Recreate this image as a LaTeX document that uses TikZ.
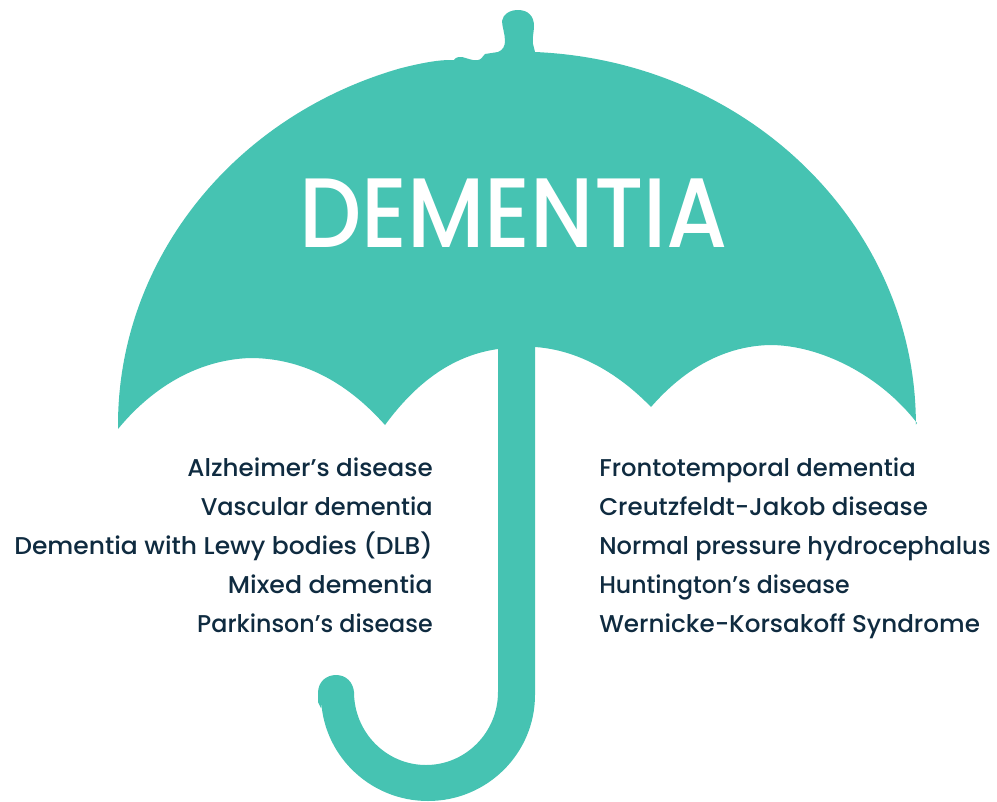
\documentclass[tikz,border=0pt]{standalone}
\usepackage{fontspec}
\setmainfont{Poppins Medium}
\definecolor{teal}{HTML}{46C3B2}
\definecolor{ink}{HTML}{0F2B40}
\tikzset{
  shapefill/.style={fill=teal,draw=none},
  leftitem/.style={anchor=base east,inner sep=0pt,text=ink,font=\fontsize{18.2}{20}\selectfont},
  rightitem/.style={anchor=base west,inner sep=0pt,text=ink,font=\fontsize{18.2}{20}\selectfont},
  titletext/.style={anchor=base,inner sep=0pt,text=white,font=\fontsize{74}{80}\selectfont}
}
\begin{document}
\begin{tikzpicture}[x=0.75pt,y=-0.75pt]
\useasboundingbox (0,0) rectangle (997,801);
% canopy
\fill[shapefill] (118,429) -- (118,425) arc[start angle=180,end angle=253,x radius=399,y radius=373]
  .. controls (425,62) and (440,60) .. (450,60)
  -- (454,60) .. controls (456,57) and (458,57) .. (462,57)
  .. controls (467,58) and (472,61) .. (478,60)
  .. controls (481,60) and (483,56) .. (485,54)
  -- (498,52) .. controls (503,50) and (505,46) .. (505,41)
  .. controls (505,34) and (502,26) .. (502,21)
  .. controls (503,14) and (510,10) .. (518,10)
  .. controls (528,10) and (534,16) .. (534,26)
  .. controls (534,32) and (532,38) .. (533,44)
  -- (535,52)
  arc[start angle=272.6,end angle=360,x radius=399,y radius=373]
  -- (917,423)
  .. controls (880,375) and (820,345) .. (770,345)
  .. controls (725,346) and (685,368) .. (651,407)
  .. controls (620,375) and (580,350) .. (535,347)
  -- (498,349)
  .. controls (455,355) and (418,380) .. (385,425)
  .. controls (345,380) and (300,358) .. (250,358)
  .. controls (195,360) and (150,390) .. (118,429)
  -- cycle;
% handle
\fill[shapefill] (498,340) -- (535,340) -- (535,695)
  arc[start angle=0,end angle=180,x radius=107,y radius=106]
  -- (321,708) -- (318,702) -- (318,693)
  .. controls (318,682) and (326,675) .. (336,675)
  .. controls (346,675) and (353,682) .. (354,692)
  arc[start angle=180,end angle=0,x radius=72,y radius=73]
  -- cycle;
\node[titletext,xscale=0.89] (title) at (513.5,247) {DEMENTIA};
\node[leftitem,xscale=1.015] (l1) at (433,476) {Alzheimer's disease};
\node[leftitem,xscale=0.99] (l2) at (433,515) {Vascular dementia};
\node[leftitem,xscale=1.03] (l3) at (433,554) {Dementia with Lewy bodies (DLB)};
\node[leftitem,xscale=1.04] (l4) at (433,593) {Mixed dementia};
\node[leftitem,xscale=0.98] (l5) at (433,632) {Parkinson's disease};
\node[rightitem,xscale=1.0] (r1) at (599,476) {Frontotemporal dementia};
\node[rightitem,xscale=1.01] (r2) at (599,515) {Creutzfeldt-Jakob disease};
\node[rightitem,xscale=0.993] (r3) at (599,554) {Normal pressure hydrocephalus};
\node[rightitem,xscale=0.975] (r4) at (599,593) {Huntington's disease};
\node[rightitem,xscale=1.016] (r5) at (599,632) {Wernicke-Korsakoff Syndrome};
\end{tikzpicture}
\end{document}
